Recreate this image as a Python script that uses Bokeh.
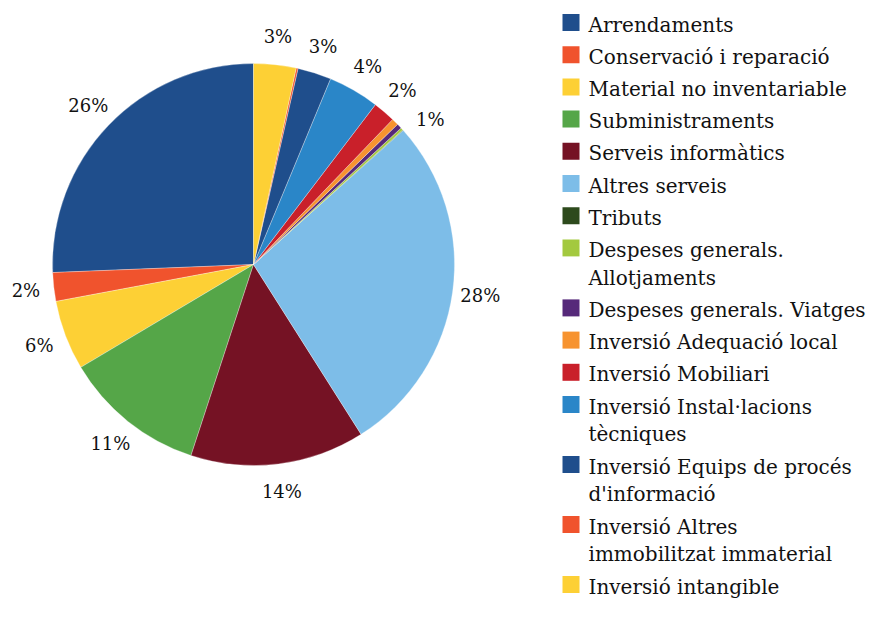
import math
from bokeh.plotting import figure
from bokeh.models import Range1d, ColumnDataSource
from bokeh.core.properties import value
from bokeh.embed import file_html
from bokeh.resources import INLINE

# ---- data ----
categories = [
    "Arrendaments", "Conservació i reparació", "Material no inventariable",
    "Subministraments", "Serveis informàtics", "Altres serveis", "Tributs",
    "Despeses generals. Allotjaments", "Despeses generals. Viatges",
    "Inversió Adequació local", "Inversió Mobiliari",
    "Inversió Instal·lacions tècniques", "Inversió Equips de procés d'informació",
    "Inversió Altres immobilitzat immaterial", "Inversió intangible",
]
legend_labels = [
    "Arrendaments", "Conservació i reparació", "Material no inventariable",
    "Subministraments", "Serveis informàtics", "Altres serveis", "Tributs",
    "Despeses generals.\nAllotjaments", "Despeses generals. Viatges",
    "Inversió Adequació local", "Inversió Mobiliari",
    "Inversió Instal·lacions\ntècniques", "Inversió Equips de procés\nd'informació",
    "Inversió Altres\nimmobilitzat immaterial", "Inversió intangible",
]
shares = [25.6, 2.3, 5.6, 11.4, 14.0, 27.6, 0.05, 0.2, 0.4, 0.55, 1.8, 4.1, 2.7, 0.15, 3.4]
colors = ["#1F4E8C", "#F0532D", "#FDD035", "#55A648", "#751224", "#7DBDE8", "#2D4A1C",
          "#A3C93F", "#56297A", "#F7932F", "#C9202A", "#2A86C8", "#1F4E8C", "#F0532D",
          "#FDD035"]

FONT = "DejaVu Serif"
W, H = 868, 602
TOP = H  # data y = TOP - screen y

p = figure(width=W, height=H, x_range=Range1d(0, W), y_range=Range1d(0, H),
           output_backend="svg", toolbar_location=None, min_border=0)
p.axis.visible = False
p.grid.visible = False
p.outline_line_color = None
p.background_fill_color = "white"
p.border_fill_color = "white"

# ---- pie ----
cx, cy, r = 253, TOP - 264, 201
total = sum(shares)
fracs = [s / total for s in shares]
starts, ends, mids = [], [], []
acc = 0.0
for f in fracs:
    starts.append(math.pi / 2 + 2 * math.pi * acc)
    ends.append(math.pi / 2 + 2 * math.pi * (acc + f))
    mids.append(360.0 * (acc + f / 2))  # ccw degrees from top
    acc += f

src = ColumnDataSource(dict(x=[cx] * len(shares), y=[cy] * len(shares),
                            start=starts, end=ends, color=colors))
p.wedge(x="x", y="y", radius=r, start_angle="start", end_angle="end",
        fill_color="color", line_color="white", line_width=0.6, line_alpha=0.5,
        source=src)

# ---- percentage labels ----
pct = [round(f * 100) for f in fracs]
vis = [i for i in range(len(pct)) if pct[i] > 0]
cw = {i: (360.0 - mids[i]) % 360.0 for i in vis}
order = sorted(vis, key=lambda i: cw[i])
min_sep = 10.0
for k in range(1, len(order)):
    a, b = order[k - 1], order[k]
    if cw[b] - cw[a] < min_sep:
        cw[b] = cw[a] + min_sep
R_lab = r + 28
lx, ly, lt = [], [], []
for i in vis:
    ang = math.radians(90.0 - cw[i])
    lx.append(cx + R_lab * math.cos(ang))
    ly.append(cy + R_lab * math.sin(ang))
    lt.append(f"{pct[i]}%")
p.text(x=lx, y=ly, text=lt, text_align="center", text_baseline="middle",
       text_font=value(FONT), text_font_size="18px", text_color="#111111")

# ---- legend (drawn manually to allow wrapped labels) ----
sq_x, sq_size, txt_x = 570.5, 17, 588
y0, step, extra = 22, 32.2, 27.8
sx, sy, sc, tx, ty, tt = [], [], [], [], [], []
yc = y0
for lab, col in zip(legend_labels, colors):
    lines = lab.split("\n")
    sx.append(sq_x)
    sy.append(TOP - yc)
    sc.append(col)
    for j, ln in enumerate(lines):
        tx.append(txt_x)
        ty.append(TOP - (yc + 2 + j * extra))
        tt.append(ln)
    yc += step + extra * (len(lines) - 1)
p.rect(x=sx, y=sy, width=sq_size, height=sq_size, fill_color=sc, line_color=None)
p.text(x=tx, y=ty, text=tt, text_align="left", text_baseline="middle",
       text_font=value(FONT), text_font_size="20px", text_color="#111111")

open("out.html", "w").write(file_html(p, INLINE))
